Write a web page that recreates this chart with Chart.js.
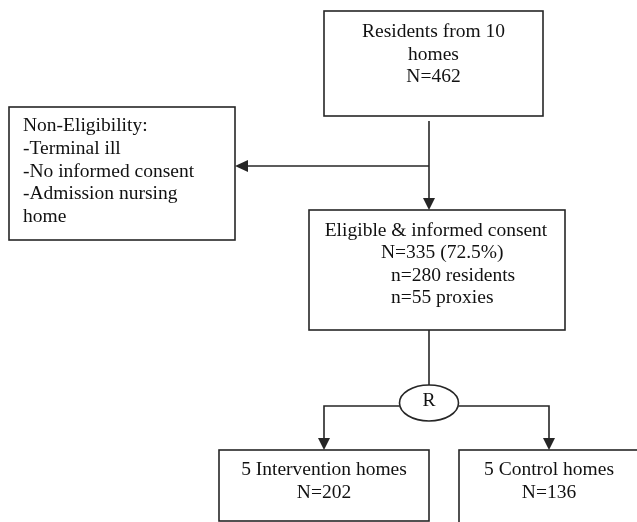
<!DOCTYPE html>
<html>
<head>
<meta charset="utf-8">
<script src="https://cdn.jsdelivr.net/npm/chart.js@4/dist/chart.umd.min.js"></script>
<style>
  html, body { margin: 0; padding: 0; background: #fff; }
  canvas { display: block; }
</style>
</head>
<body>
<canvas id="flow" width="637" height="522"></canvas>
<script>
// flow of residents through the study
const stages = ["Residents from 10 homes", "Eligible & informed consent", "5 Intervention homes", "5 Control homes"];
const stageCounts = [462, 335, 202, 136];
const eligiblePct = 72.5;
const subgroups = ["residents", "proxies"];
const subgroupCounts = [280, 55];
const exclusionTitle = "Non-Eligibility:";
const exclusionReasons = ["Terminal ill", "No informed consent", "Admission nursing home"];
const randomLabel = "R";

// layout in axis units (axis runs 0..637 by 0..522, top down)
const layout = {
  start:     { x0: 324, x1: 543, y0: 11,  y1: 116 },
  exclusion: { x0: 9,   x1: 235, y0: 107, y1: 240 },
  eligible:  { x0: 309, x1: 565, y0: 210, y1: 330 },
  arm1:      { x0: 219, x1: 429, y0: 450, y1: 521 },
  arm2:      { x0: 459, x1: 639, y0: 450, y1: 560 },
  rand:      { cx: 429, cy: 403, rx: 29.5, ry: 18 }
};

const INK = "#262626";
const TEXT_INK = "#111";
const FONT = "19.5px 'Liberation Serif', 'Times New Roman', serif";

const flowPlugin = {
  id: "flow",
  afterDraw(chart) {
    const ctx = chart.ctx;
    const xs = chart.scales.x, ys = chart.scales.y;
    const X = v => xs.getPixelForValue(v);
    const Y = v => ys.getPixelForValue(v);

    ctx.save();
    ctx.strokeStyle = INK;
    ctx.fillStyle = INK;
    ctx.lineWidth = 1.6;

    function box(b) {
      ctx.strokeRect(X(b.x0), Y(b.y0), X(b.x1) - X(b.x0), Y(b.y1) - Y(b.y0));
    }
    function line(pts) {
      ctx.beginPath();
      ctx.moveTo(X(pts[0][0]), Y(pts[0][1]));
      for (let i = 1; i < pts.length; i++) ctx.lineTo(X(pts[i][0]), Y(pts[i][1]));
      ctx.stroke();
    }
    // arrow head with its tip at (x,y), pointing "down" or "left"
    function head(x, y, dir) {
      const px = X(x), py = Y(y);
      ctx.beginPath();
      if (dir === "down") {
        ctx.moveTo(px, py); ctx.lineTo(px - 6, py - 12); ctx.lineTo(px + 6, py - 12);
      } else {
        ctx.moveTo(px, py); ctx.lineTo(px + 13, py - 6); ctx.lineTo(px + 13, py + 6);
      }
      ctx.closePath();
      ctx.fill();
    }
    function text(t, x, y, align) {
      ctx.save();
      ctx.font = FONT;
      ctx.fillStyle = TEXT_INK;
      ctx.textBaseline = "alphabetic";
      ctx.textAlign = align || "center";
      ctx.fillText(t, X(x), Y(y));
      ctx.restore();
    }

    // boxes
    box(layout.start);
    box(layout.exclusion);
    box(layout.eligible);
    box(layout.arm1);
    box(layout.arm2);

    // randomisation ellipse
    const r = layout.rand;
    ctx.beginPath();
    ctx.ellipse(X(r.cx), Y(r.cy), r.rx, r.ry, 0, 0, Math.PI * 2);
    ctx.stroke();

    // connectors
    line([[429, 121], [429, 199]]);
    head(429, 210, "down");
    line([[429, 166], [246, 166]]);
    head(235, 166, "left");
    line([[429, 330], [429, r.cy - r.ry]]);
    line([[r.cx - r.rx, 406], [324, 406], [324, 438]]);
    head(324, 450, "down");
    line([[r.cx + r.rx, 406], [549, 406], [549, 438]]);
    head(549, 450, "down");

    // texts
    const s = layout.start;
    const w0 = stages[0].split(" ");
    text(w0.slice(0, 3).join(" "), (s.x0 + s.x1) / 2, 37);
    text(w0.slice(3).join(" "), (s.x0 + s.x1) / 2, 60);
    text("N=" + stageCounts[0], (s.x0 + s.x1) / 2, 82);

    const ex = layout.exclusion;
    const exLines = [exclusionTitle, "-" + exclusionReasons[0], "-" + exclusionReasons[1],
      "-" + exclusionReasons[2].replace(" home", ""), "home"];
    exLines.forEach((t, i) => text(t, ex.x0 + 14, 131 + i * 22.8, "left"));

    const el = layout.eligible;
    text(stages[1], (el.x0 + el.x1) / 2 - 1, 236);
    text("N=" + stageCounts[1] + " (" + eligiblePct.toFixed(1) + "%)", 381, 258, "left");
    text("n=" + subgroupCounts[0] + " " + subgroups[0], 391, 281, "left");
    text("n=" + subgroupCounts[1] + " " + subgroups[1], 391, 303, "left");

    text(randomLabel, r.cx, 406);

    text(stages[2], 324, 475);
    text("N=" + stageCounts[2], 324, 498);
    text(stages[3], 549, 475);
    text("N=" + stageCounts[3], 549, 498);

    ctx.restore();
  }
};

new Chart(document.getElementById("flow").getContext("2d"), {
  type: "scatter",
  data: { datasets: [] },
  options: {
    responsive: false,
    animation: false,
    layout: { padding: 0 },
    scales: {
      x: { type: "linear", min: 0, max: 637, display: false },
      y: { type: "linear", min: 0, max: 522, reverse: true, display: false }
    },
    plugins: { legend: { display: false }, tooltip: { enabled: false } }
  },
  plugins: [flowPlugin]
});
</script>
</body>
</html>
